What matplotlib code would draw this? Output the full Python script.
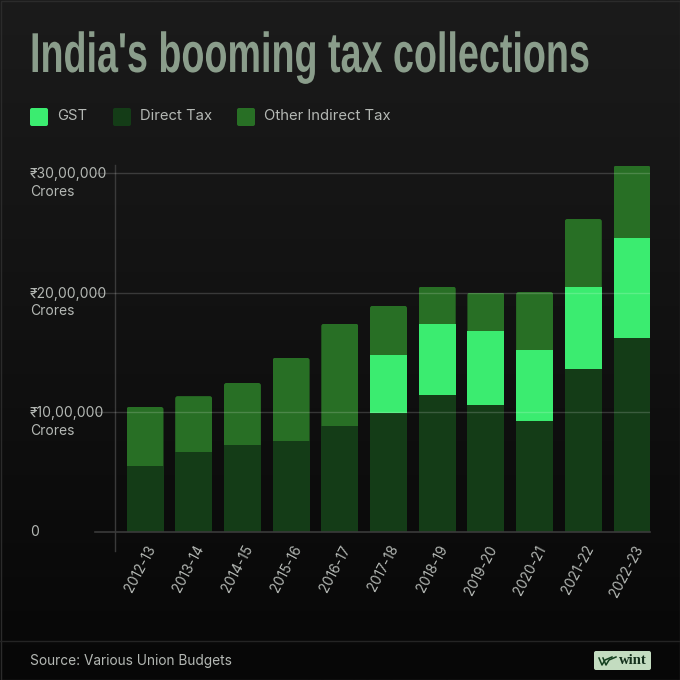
import numpy as np
import matplotlib
matplotlib.use("Agg")
import matplotlib.pyplot as plt
from matplotlib.patches import FancyBboxPatch, Rectangle
from matplotlib.lines import Line2D
from matplotlib.transforms import Affine2D, IdentityTransform
import matplotlib.patheffects as pe

years = ["2012-13","2013-14","2014-15","2015-16","2016-17","2017-18","2018-19","2019-20","2020-21","2021-22","2022-23"]
direct = [5.5,6.7,7.25,7.6,8.85,9.95,11.45,10.6,9.3,13.6,16.2]
gst = [0,0,0,0,0,4.85,5.95,6.2,5.9,6.9,8.35]
other = [4.95,4.65,5.2,6.95,8.55,4.1,3.1,3.2,4.85,5.65,6.05]
ytick_vals = [0,10,20,30]
ytick_labels = ["0","₹10,00,000\nCrores","₹20,00,000\nCrores","₹30,00,000\nCrores"]
legend_labels = ["GST","Direct Tax","Other Indirect Tax"]
title = "India's booming tax collections"
source = "Source: Various Union Budgets"
C_GST, C_DIR, C_OTH = "#3bec70", "#143c17", "#286f25"

W = H = 680
fig = plt.figure(figsize=(6.8,6.8), dpi=100)
bg = fig.add_axes([0,0,1,1]); bg.set_axis_off()
grad = np.linspace(0,1,256).reshape(-1,1,1)
c0, c1 = np.array([0x1b,0x1b,0x1b]), np.array([0x07,0x07,0x07])
bg.imshow((c0+(c1-c0)*grad)/255, aspect="auto", extent=[0,W,H,0], zorder=0)
bg.set_xlim(0,W); bg.set_ylim(H,0)
bg.add_line(Line2D([0,W],[641,641],color="#242424",lw=1))
bg.add_patch(Rectangle((0.5,0.5),W-1,H-1,fill=False,ec="#2b2b2b",lw=1))

TXT = "#b4b8b4"

# real text, stretched upward when drawn to give the tall condensed look
class Stretch(pe.AbstractPathEffect):
    def __init__(self, sy, y0):
        super().__init__(); self.sy, self.y0 = sy, y0
    def draw_path(self, renderer, gc, tpath, affine, rgbFace=None):
        a = affine + Affine2D().translate(0,-self.y0).scale(1,self.sy).translate(0,self.y0)
        renderer.draw_path(gc, tpath, a, rgbFace)
t = bg.text(30,72,title,family="Liberation Sans",fontweight="bold",fontsize=25,color="#8a9d8b",va="baseline")
fig.canvas.draw()
fs = 25*560/t.get_window_extent(fig.canvas.get_renderer()).width
t.set_fontsize(fs)
sy = 41/(fs*100/72*0.729)
t.set_path_effects([Stretch(sy,H-72)])

# legend
for x,c,l,tx in zip([30,113,237],[C_GST,C_DIR,C_OTH],legend_labels,[57,140,264]):
    bg.add_patch(FancyBboxPatch((x,108),18,18,boxstyle="round,pad=0,rounding_size=2",fc=c,ec="none"))
    bg.text(tx,116.5,l,family="Inter",fontsize=10.7,color=TXT,va="center")

# chart axes: x 95-650px, y 532-165px
ax = fig.add_axes([95/W,1-532/H,555/W,367/H])
ax.patch.set_alpha(0)
x = np.arange(len(years))
step = 48.7
ax.set_xlim(-(145-95)/step,(650-145)/step)
ax.set_ylim(0,367/11.97)
for s in ax.spines.values(): s.set_visible(False)
ax.axhline(0,color="#3a3a3a",lw=1.2,zorder=5,clip_on=False)
for v in ytick_vals[1:]:
    ax.axhline(v,color="white",alpha=0.17,lw=1,zorder=3)
w = 37/step
d = np.array(direct); g = np.array(gst); o = np.array(other)
ax.bar(x,d,w,color=C_DIR,zorder=2)
ax.bar(x,g,w,bottom=d,color=C_GST,zorder=2)
tops = ax.bar(x,o,w,bottom=d+g,color=C_OTH,zorder=2)
for r in tops:
    b = r.get_window_extent(fig.canvas.get_renderer())
    clip = FancyBboxPatch((b.x0,b.y0-10),b.width,b.height+10,boxstyle="round,pad=0,rounding_size=2.5",transform=IdentityTransform())
    r.set_clip_path(clip)
ax.plot([(114.5-95)/555]*2,[-19/367,1],transform=ax.transAxes,color="#3a3a3a",lw=1,clip_on=False,zorder=1)
ax.set_xticks(x,years,rotation=62,ha="center",va="top",family="Inter",fontsize=9.8,color=TXT)
ax.tick_params(axis="x",length=0,pad=8)
for lab in ax.get_xticklabels():
    lab.set_transform(lab.get_transform() + Affine2D().translate(-5,0))
ax.set_yticks([])
for v,l in zip(ytick_vals,ytick_labels):
    ax.annotate(l,xy=(0,v),xycoords=("axes fraction","data"),xytext=(30,532-v*11.97-(6 if v else -0.5)),textcoords=bg.transData,
        family=["Inter","DejaVu Sans"],fontsize=10,color=TXT,va="top" if v else "center",linespacing=1.35,annotation_clip=False)

bg.text(30,661,source,family="Inter",fontsize=9.85,color=TXT,va="center")
bg.add_patch(FancyBboxPatch((594,651),57,19,boxstyle="round,pad=0,rounding_size=2",fc="#c3dcc0",ec="none"))
bg.text(633,661,"wint",family="Liberation Serif",fontweight="bold",fontsize=10.5,color="#14301c",ha="center",va="center")
for xs,ys in [([599,602,605,612],[658,665,660,657]),([603,606,609,616],[658,665,660,657])]:
    bg.add_line(Line2D(xs,ys,color="#14401f",lw=1.1))
bg.set_xlim(0,W); bg.set_ylim(H,0)
fig.savefig("out.png",dpi=100)
